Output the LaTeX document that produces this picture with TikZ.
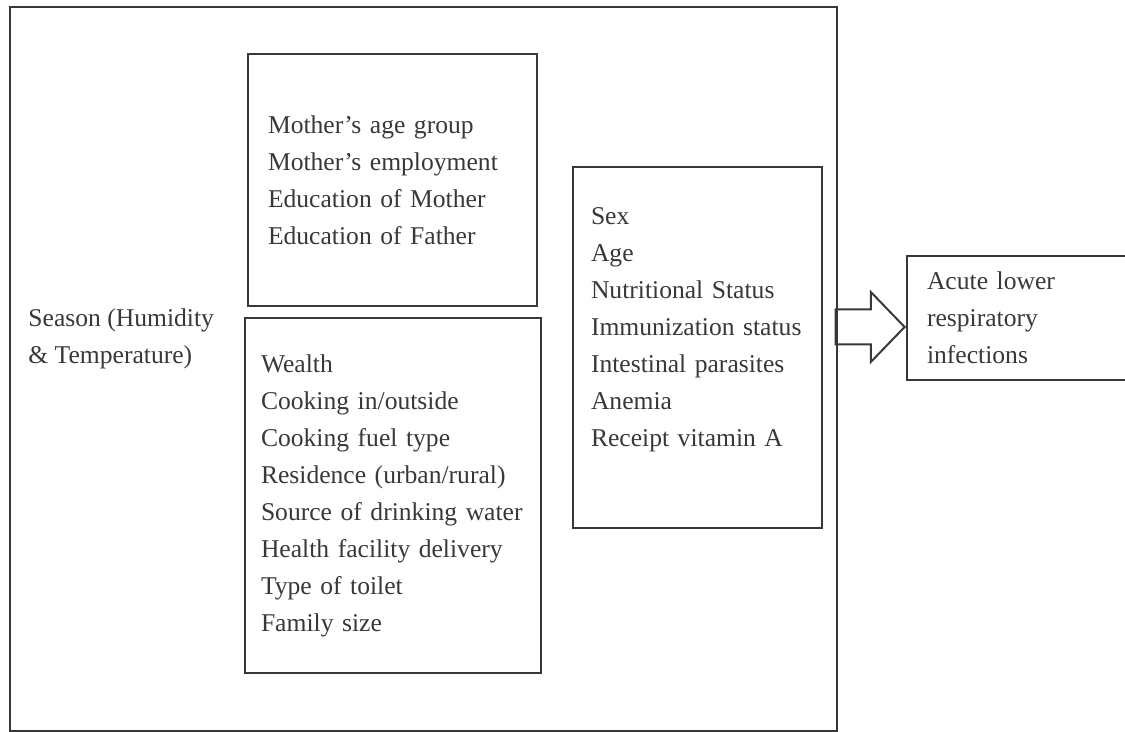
\documentclass[tikz,border=0pt]{standalone}
\usepackage{fontspec}
\setmainfont{Liberation Serif}
\usepackage{xcolor}
\usepackage{tikz}
\usetikzlibrary{shapes.arrows}

\definecolor{inkgray}{gray}{0.22}

\begin{document}
\begin{tikzpicture}[x=0.5pt, y=-0.5pt,
     every node/.style={text=inkgray, font=\fontsize{12.8}{18.5}\selectfont},
     factor/.style={rectangle, draw=inkgray, line width=1pt, align=left, inner ysep=0pt},
     bigarrow/.style={single arrow, draw=inkgray, line width=1pt, inner xsep=0pt, inner ysep=8.25pt, minimum height=34.5pt, minimum width=34pt, single arrow head extend=8.75pt, single arrow tip angle=92}]
     \useasboundingbox (0,0) rectangle (1125,732);

     \node[draw=inkgray, line width=0.9pt, inner sep=0pt, minimum width=413.5pt, minimum height=362pt] (frame) at (423.5,369) {};

     \node[anchor=west, align=left, inner sep=0pt] (season) at (28,339) {Season (Humidity\\\& Temperature)};

     \node[factor, text width=124.5pt, inner xsep=10pt, minimum height=126pt] (parent) at (392.5,180) {Mother’s age group\\Mother’s employment\\Education of Mother\\Education of Father};
     \node[factor, text width=132pt, inner xsep=8pt, minimum height=177.5pt] (household) at (393,495.5) {Wealth\\Cooking in/outside\\Cooking fuel type\\Residence (urban/rural)\\Source of drinking water\\Health facility delivery\\Type of toilet\\Family size};
     \node[factor, text width=106.5pt, inner xsep=9pt, minimum height=180.5pt] (child) at (697.5,347.5) {Sex\\Age\\Nutritional Status\\Immunization status\\Intestinal parasites\\Anemia\\Receipt vitamin A\\[2pt]\mbox{}};
     \node[factor, text width=95pt, inner xsep=10pt, minimum height=62pt] (alri) at (1022,318) {Acute lower\\respiratory\\infections};

     \node[bigarrow, anchor=tip] (arrow) at (906,327) {};
     \end{tikzpicture}
\end{document}
